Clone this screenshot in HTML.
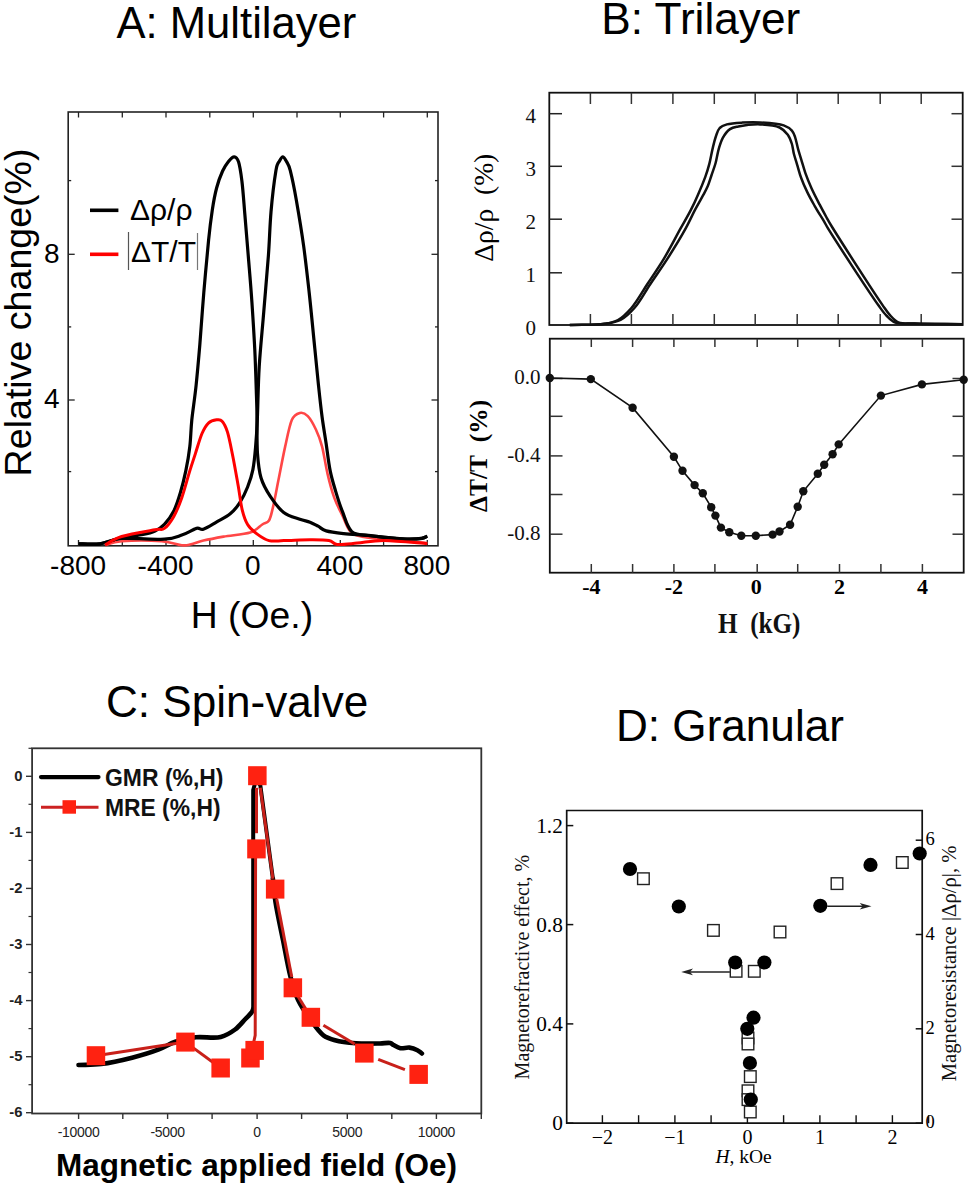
<!DOCTYPE html><html><head><meta charset="utf-8"><style>html,body{margin:0;padding:0;background:#fff;overflow:hidden}svg{display:block}</style></head><body>
<svg width="971" height="1187" viewBox="0 0 971 1187">
<rect width="971" height="1187" fill="#fff"/>
<text x="116.5" y="37.8" font-family='"Liberation Sans", sans-serif' font-size="43.6" text-anchor="start" font-weight="normal" fill="#000" >A: Multilayer</text>
<rect x="68.2" y="112" width="369.8" height="433.8" fill="none" stroke="#222" stroke-width="1.6"/>
<line x1="78.5" y1="112" x2="78.5" y2="117.5" stroke="#222" stroke-width="1.3" />
<line x1="78.5" y1="545.8" x2="78.5" y2="540" stroke="#222" stroke-width="1.3" />
<line x1="122.3" y1="112" x2="122.3" y2="117.5" stroke="#222" stroke-width="1.3" />
<line x1="122.3" y1="545.8" x2="122.3" y2="540" stroke="#222" stroke-width="1.3" />
<line x1="166" y1="112" x2="166" y2="117.5" stroke="#222" stroke-width="1.3" />
<line x1="166" y1="545.8" x2="166" y2="540" stroke="#222" stroke-width="1.3" />
<line x1="209.8" y1="112" x2="209.8" y2="117.5" stroke="#222" stroke-width="1.3" />
<line x1="209.8" y1="545.8" x2="209.8" y2="540" stroke="#222" stroke-width="1.3" />
<line x1="253.3" y1="112" x2="253.3" y2="117.5" stroke="#222" stroke-width="1.3" />
<line x1="253.3" y1="545.8" x2="253.3" y2="540" stroke="#222" stroke-width="1.3" />
<line x1="297" y1="112" x2="297" y2="117.5" stroke="#222" stroke-width="1.3" />
<line x1="297" y1="545.8" x2="297" y2="540" stroke="#222" stroke-width="1.3" />
<line x1="340.3" y1="112" x2="340.3" y2="117.5" stroke="#222" stroke-width="1.3" />
<line x1="340.3" y1="545.8" x2="340.3" y2="540" stroke="#222" stroke-width="1.3" />
<line x1="383.6" y1="112" x2="383.6" y2="117.5" stroke="#222" stroke-width="1.3" />
<line x1="383.6" y1="545.8" x2="383.6" y2="540" stroke="#222" stroke-width="1.3" />
<line x1="427.3" y1="112" x2="427.3" y2="117.5" stroke="#222" stroke-width="1.3" />
<line x1="427.3" y1="545.8" x2="427.3" y2="540" stroke="#222" stroke-width="1.3" />
<line x1="68.2" y1="254.3" x2="74.7" y2="254.3" stroke="#222" stroke-width="1.3" />
<line x1="438" y1="254.3" x2="431.5" y2="254.3" stroke="#222" stroke-width="1.3" />
<line x1="68.2" y1="400" x2="74.7" y2="400" stroke="#222" stroke-width="1.3" />
<line x1="438" y1="400" x2="431.5" y2="400" stroke="#222" stroke-width="1.3" />
<line x1="68.2" y1="180.6" x2="71.2" y2="180.6" stroke="#222" stroke-width="1.3" />
<line x1="438" y1="180.6" x2="435" y2="180.6" stroke="#222" stroke-width="1.3" />
<line x1="68.2" y1="326.9" x2="71.2" y2="326.9" stroke="#222" stroke-width="1.3" />
<line x1="438" y1="326.9" x2="435" y2="326.9" stroke="#222" stroke-width="1.3" />
<line x1="68.2" y1="471.6" x2="71.2" y2="471.6" stroke="#222" stroke-width="1.3" />
<line x1="438" y1="471.6" x2="435" y2="471.6" stroke="#222" stroke-width="1.3" />
<text x="59.6" y="262.5" font-family='"Liberation Sans", sans-serif' font-size="28" text-anchor="end" font-weight="normal" fill="#000" >8</text>
<text x="59.6" y="408.3" font-family='"Liberation Sans", sans-serif' font-size="28" text-anchor="end" font-weight="normal" fill="#000" >4</text>
<text x="78.1" y="575.2" font-family='"Liberation Sans", sans-serif' font-size="28" text-anchor="middle" font-weight="normal" fill="#000" >-800</text>
<text x="165.6" y="575.2" font-family='"Liberation Sans", sans-serif' font-size="28" text-anchor="middle" font-weight="normal" fill="#000" >-400</text>
<text x="252.9" y="575.2" font-family='"Liberation Sans", sans-serif' font-size="28" text-anchor="middle" font-weight="normal" fill="#000" >0</text>
<text x="339.9" y="575.2" font-family='"Liberation Sans", sans-serif' font-size="28" text-anchor="middle" font-weight="normal" fill="#000" >400</text>
<text x="426.9" y="575.2" font-family='"Liberation Sans", sans-serif' font-size="28" text-anchor="middle" font-weight="normal" fill="#000" >800</text>
<text x="190.8" y="628.2" font-family='"Liberation Sans", sans-serif' font-size="37.3" text-anchor="start" font-weight="normal" fill="#000" >H (Oe.)</text>
<text transform="translate(30.9,476.4) rotate(-90)" font-family='"Liberation Sans", sans-serif' font-size="37.6" fill="#000">Relative change(%)</text>
<line x1="90" y1="210.3" x2="118.4" y2="210.3" stroke="#000" stroke-width="3.6" />
<line x1="90" y1="254.3" x2="118.4" y2="254.3" stroke="#f00" stroke-width="3.6" />
<text x="130" y="220" font-family='"Liberation Sans", sans-serif' font-size="30" text-anchor="start" font-weight="normal" fill="#000" >&#916;&#961;/&#961;</text>
<text x="131" y="262" font-family='"Liberation Sans", sans-serif' font-size="30" text-anchor="start" font-weight="normal" fill="#000" >&#916;T/T</text>
<line x1="128.5" y1="232" x2="128.5" y2="270" stroke="#555" stroke-width="1.2" />
<line x1="197.5" y1="233" x2="197.5" y2="270" stroke="#777" stroke-width="1.2" />
<path d="M105.5 545.2 C108.2 544.5 112.2 541.9 121.6 541.2 C131 540.5 151.7 540.5 161.7 541.2 C171.7 541.9 177.1 544.6 181.8 545.2 C186.5 545.8 186.4 545.4 190 544.6 C193.6 543.8 197.8 541.9 203.4 540.6 C209 539.3 215.7 538 223.5 536.6 C231.3 535.2 243.7 534.5 250.2 532.5 C256.7 530.5 259.2 526.5 262.3 524.5 C265.4 522.5 267.2 523.4 269 520.5 C270.8 517.6 271.4 513.8 273 507.1 C274.6 500.4 276.4 490.3 278.4 480.3 C280.4 470.3 282.9 456.9 285.1 446.9 C287.3 436.9 289.4 425.8 291.8 420.1 C294.2 414.5 297.1 413.7 299.8 413 C302.5 412.3 305.1 413.4 307.8 416.1 C310.5 418.9 313.5 424.4 315.9 429.5 C318.3 434.6 320.2 439.2 322.1 446.6 C324 454 325.5 465.1 327.5 473.6 C329.5 482.2 331.8 490.9 334.3 497.9 C336.8 504.9 339.7 509.8 342.4 515.4 C345.1 521 346.9 528 350.5 531.6 C354.1 535.2 357.2 535.6 363.9 537 C370.6 538.4 380.3 538.7 390.9 539.7 C401.5 540.7 421.2 542.5 427.3 543.1" fill="none" stroke="#ff4646" stroke-width="2.6" stroke-linejoin="round"/>
<path d="M78.7 543.8 C82.2 543.8 92.8 544.8 100 543.8 C107.2 542.8 114.4 539.3 121.6 537.8 C128.8 536.2 137.4 535.6 143 534.5 C148.6 533.4 151.4 532.7 155 531 C158.6 529.3 161.3 527.7 164.4 524.4 C167.5 521.1 171.1 516.4 173.8 511 C176.5 505.6 178.5 499 180.5 492.3 C182.5 485.6 184.2 478.5 185.8 470.9 C187.4 463.3 188.8 455.3 189.8 446.8 C190.8 438.3 190.8 430.2 191.8 420 C192.9 409.8 194.8 397.9 196.1 385.4 C197.4 372.9 198.5 360.4 199.8 345 C201.1 329.6 202.3 310.2 203.8 292.7 C205.3 275.2 207.2 253.8 208.6 240 C210 226.2 211 218.7 212.3 210 C213.6 201.3 214.9 194.5 216.6 188 C218.3 181.5 220.6 175.4 222.6 171 C224.6 166.6 226.6 163.9 228.5 161.5 C230.4 159.1 232.5 156.7 234.2 156.8 C235.9 156.9 237.3 158 238.6 162 C239.9 166 240.8 172.2 241.9 181 C243 189.8 243.8 201.8 244.9 215 C246 228.2 247.4 245.5 248.6 260 C249.8 274.5 250.9 287 251.9 302 C252.9 317 254 333.7 254.8 350 C255.6 366.3 256.2 388.3 256.6 400 C257 411.7 256.9 411.1 257 420 C257.1 428.9 256.8 444 257.5 453.6 C258.2 463.2 258.9 470.6 261 477.7 C263.1 484.8 266.5 490.6 270.3 496.4 C274.1 502.2 278.8 508.7 283.7 512.5 C288.6 516.3 295.4 517.6 299.8 519.2 C304.2 520.8 306.9 521 310 522.2 C313.1 523.4 315.4 524.8 318.1 526.2 C320.8 527.7 321.9 529.7 326.2 530.9 C330.5 532.1 336.7 532.8 343.7 533.6 C350.7 534.4 360.6 534.8 368 535.5 C375.4 536.2 381.7 537.1 388.2 537.7 C394.7 538.3 401.5 538.9 407.1 539 C412.7 539.1 418.5 538.8 421.9 538.3 C425.3 537.8 426.4 536.6 427.3 536.3" fill="none" stroke="#000" stroke-width="3.2" stroke-linejoin="round"/>
<path d="M78.7 543.8 C82.2 543.8 92.8 544.7 100 543.8 C107.2 542.9 110.9 539.3 121.6 538.5 C132.3 537.7 154.4 539.8 164.4 539.2 C174.4 538.6 176.5 536.9 181.8 535.1 C187.2 533.3 192.9 529.4 196.5 528.4 C200.1 527.4 200 530.3 203.4 529.2 C206.8 528.1 212.3 524.4 216.8 521.8 C221.3 519.2 226.4 516.9 230.2 513.8 C234 510.7 236.6 507.6 239.5 503.1 C242.4 498.6 245.4 492.6 247.6 487 C249.8 481.4 251.6 476.3 252.9 469.6 C254.2 462.9 254.9 455.2 255.6 446.9 C256.3 438.6 256.7 433.3 257.3 420 C257.9 406.7 258.1 385 259.2 366.9 C260.3 348.8 262.3 329.9 263.8 311.3 C265.3 292.8 267.2 272.1 268.4 255.6 C269.6 239 269.8 226.2 271 212 C272.2 197.8 274.5 179.2 275.9 170.7 C277.3 162.2 278.3 163.3 279.5 161 C280.7 158.7 281.7 156.7 282.9 156.8 C284.1 156.9 285.3 159.2 286.5 161.5 C287.7 163.8 288.7 164.3 290.3 170.7 C291.9 177.1 294.1 187.4 296.3 200 C298.5 212.6 301.6 231 303.7 246.4 C305.8 261.9 307.3 275.7 309.2 292.7 C311.1 309.7 313.2 332.9 314.8 348.3 C316.4 363.8 317.3 373.9 318.5 385.4 C319.7 396.8 320.8 407.2 322.1 417 C323.4 426.8 324.9 435 326.2 444 C327.5 453 328.6 463 330.2 470.9 C331.8 478.8 333.6 484.4 335.6 491.1 C337.6 497.9 339.7 504.6 342.4 511.4 C345.1 518.1 347.1 527.5 351.8 531.6 C356.5 535.7 364.6 534.7 370.7 535.7 C376.8 536.7 382.1 537.2 388.2 537.7 C394.3 538.2 401.5 538.9 407.1 539 C412.7 539.1 418.5 538.8 421.9 538.3 C425.3 537.8 426.4 536.6 427.3 536.3" fill="none" stroke="#000" stroke-width="3.2" stroke-linejoin="round"/>
<path d="M105 545 C107.8 543.6 113.3 539 121.6 536.5 C129.9 534 147.9 531.1 155 529.8 C162.1 528.4 161.3 530.6 164.4 528.4 C167.5 526.2 170.9 521.5 173.8 516.4 C176.7 511.3 179.1 505.3 181.8 497.7 C184.5 490.1 187.5 478.2 189.8 470.9 C192.1 463.5 193.4 459.8 195.4 453.6 C197.4 447.4 199.8 438.6 202 433.5 C204.2 428.4 206.2 425.1 208.7 422.8 C211.2 420.5 214.6 420.1 216.8 419.8 C219 419.5 220.3 419.1 222.1 421.2 C223.9 423.2 225.7 426.3 227.5 432.1 C229.3 437.9 231 447.3 232.8 456.2 C234.6 465.1 236.6 476.8 238.2 485.7 C239.8 494.6 240.6 503.3 242.2 509.8 C243.8 516.3 245.2 520.5 247.6 524.5 C250 528.5 253.3 531.2 256.9 533.9 C260.5 536.6 264.5 539.5 269 540.6 C273.5 541.7 276.9 540.8 283.7 540.6 C290.5 540.5 302.5 539.7 310 539.7 C317.5 539.7 324.4 539.6 328.9 540.4 C333.4 541.2 332.3 543.9 337 544.4 C341.7 544.9 349.3 543.8 357.2 543.1 C365.1 542.4 372.5 540.3 384.2 540.4 C395.9 540.5 420.1 543.2 427.3 543.7" fill="none" stroke="#f00" stroke-width="3" stroke-linejoin="round"/>
<text x="601.3" y="34.3" font-family='"Liberation Sans", sans-serif' font-size="44.2" text-anchor="start" font-weight="normal" fill="#000" >B: Trilayer</text>
<rect x="549.3" y="92.7" width="413.4" height="232.3" fill="none" stroke="#111" stroke-width="1.8"/>
<line x1="590.4" y1="92.7" x2="590.4" y2="104" stroke="#333" stroke-width="1.5" />
<line x1="590.4" y1="325" x2="590.4" y2="314" stroke="#333" stroke-width="1.5" />
<line x1="631.4" y1="92.7" x2="631.4" y2="104" stroke="#333" stroke-width="1.5" />
<line x1="631.4" y1="325" x2="631.4" y2="314" stroke="#333" stroke-width="1.5" />
<line x1="672.9" y1="92.7" x2="672.9" y2="104" stroke="#333" stroke-width="1.5" />
<line x1="672.9" y1="325" x2="672.9" y2="314" stroke="#333" stroke-width="1.5" />
<line x1="714.3" y1="92.7" x2="714.3" y2="104" stroke="#333" stroke-width="1.5" />
<line x1="714.3" y1="325" x2="714.3" y2="314" stroke="#333" stroke-width="1.5" />
<line x1="755.2" y1="92.7" x2="755.2" y2="104" stroke="#333" stroke-width="1.5" />
<line x1="755.2" y1="325" x2="755.2" y2="314" stroke="#333" stroke-width="1.5" />
<line x1="797.2" y1="92.7" x2="797.2" y2="104" stroke="#333" stroke-width="1.5" />
<line x1="797.2" y1="325" x2="797.2" y2="314" stroke="#333" stroke-width="1.5" />
<line x1="838.2" y1="92.7" x2="838.2" y2="104" stroke="#333" stroke-width="1.5" />
<line x1="838.2" y1="325" x2="838.2" y2="314" stroke="#333" stroke-width="1.5" />
<line x1="880.2" y1="92.7" x2="880.2" y2="104" stroke="#333" stroke-width="1.5" />
<line x1="880.2" y1="325" x2="880.2" y2="314" stroke="#333" stroke-width="1.5" />
<line x1="921.2" y1="92.7" x2="921.2" y2="104" stroke="#333" stroke-width="1.5" />
<line x1="921.2" y1="325" x2="921.2" y2="314" stroke="#333" stroke-width="1.5" />
<line x1="549.3" y1="113.7" x2="562" y2="113.7" stroke="#222" stroke-width="1.5" />
<line x1="962.7" y1="113.7" x2="951.5" y2="113.7" stroke="#333" stroke-width="1.5" />
<line x1="549.3" y1="166.3" x2="562" y2="166.3" stroke="#222" stroke-width="1.5" />
<line x1="962.7" y1="166.3" x2="951.5" y2="166.3" stroke="#333" stroke-width="1.5" />
<line x1="549.3" y1="219.2" x2="562" y2="219.2" stroke="#222" stroke-width="1.5" />
<line x1="962.7" y1="219.2" x2="951.5" y2="219.2" stroke="#333" stroke-width="1.5" />
<line x1="549.3" y1="272.8" x2="562" y2="272.8" stroke="#222" stroke-width="1.5" />
<line x1="962.7" y1="272.8" x2="951.5" y2="272.8" stroke="#333" stroke-width="1.5" />
<text x="536" y="122.8" font-family='"Liberation Serif", serif' font-size="21" text-anchor="end" font-weight="normal" fill="#111" >4</text>
<text x="536" y="175.8" font-family='"Liberation Serif", serif' font-size="21" text-anchor="end" font-weight="normal" fill="#111" >3</text>
<text x="536" y="228.8" font-family='"Liberation Serif", serif' font-size="21" text-anchor="end" font-weight="normal" fill="#111" >2</text>
<text x="536" y="282.3" font-family='"Liberation Serif", serif' font-size="21" text-anchor="end" font-weight="normal" fill="#111" >1</text>
<text x="536" y="334.5" font-family='"Liberation Serif", serif' font-size="21" text-anchor="end" font-weight="normal" fill="#111" >0</text>
<text transform="translate(492.5,261.8) rotate(-90)" font-family='"Liberation Serif", serif' font-size="27.6" fill="#000">&#916;&#961;/&#961;&#160;&#160;(%)</text>
<path d="M569.8 325 C581.4 324.6 595.8 325.2 604.6 323.8 C610.2 322.9 613.8 322.3 618 320 C622.8 317.4 627 313 631.4 308 C636.9 301.6 642.1 292.1 647.4 284 C652.8 275.9 658.2 268.2 663.5 259.4 C669.3 249.8 675.6 237.4 680.6 228.4 C684.5 221.4 687.9 215.8 690.9 209.9 C693.6 204.6 695.8 199.8 698.1 194.4 C700.6 188.8 703.3 182.4 705.3 176.9 C707 172.2 708.2 168.2 709.4 163.6 C710.6 158.9 711.4 153.8 712.5 149.1 C713.6 144.5 714.7 139.5 716.1 135.7 C717.2 132.7 717.9 129.9 719.7 128 C721.5 126.2 724 125.3 726.9 124.4 C731 123.2 737.1 122.9 742.4 122.6 C748.1 122.2 753.7 122 760 122.4 C767.3 122.8 778 123.4 783.7 125.4 C787.3 126.7 790 128.5 791.9 130.6 C793.5 132.4 794.1 134.3 795 136.8 C796.2 140.2 797 145.2 798.1 149.1 C799.1 152.7 800.1 155.7 801.2 159.4 C802.5 163.6 803.7 168.2 805.3 172.8 C807.1 177.8 809.2 183.1 811.5 188.3 C813.9 193.7 817 199.5 819.7 204.7 C822.1 209.4 824.7 214.1 826.9 218.1 C828.7 221.4 829.4 222.6 832.1 227 C840.2 240.2 872.7 290.9 882.4 304.9 C886.1 310.2 887.5 312.6 890.4 315.6 C892.9 318.3 895 320.9 898.4 322.3 C902.6 324 907.7 323.3 914.5 323.6 C926.3 324.1 946.6 324 962.7 324.2" fill="none" stroke="#111" stroke-width="2.5" stroke-linejoin="round"/>
<path d="M569.8 325 C581.4 324.6 595.3 325.1 604.6 323.8 C611 322.9 615.7 322.5 620.5 320 C625.6 317.4 629.9 313.1 634.4 308 C640 301.7 645 292 650.4 284 C655.9 275.8 661.4 268.1 667 259.4 C673.2 249.7 680.7 237.5 685.7 228.4 C689.5 221.5 691.9 215.8 695 209.9 C697.9 204.5 701.3 198.8 703.6 194.4 C705.3 191.2 706.5 189 707.8 186 C709.2 182.6 710.3 178.7 711.6 175 C712.9 171.1 714.4 167.2 715.6 163 C716.8 158.6 717.4 153.5 718.7 149.1 C719.9 145.1 720.9 141.2 722.8 137.8 C724.7 134.5 727.2 131 730 129.1 C732.5 127.4 734.8 127.2 738.3 126.5 C743.8 125.4 753 124.2 760 124.4 C766.7 124.6 774.7 125.2 779.6 127.5 C783.2 129.2 785.7 131.9 787.8 134.7 C789.8 137.4 790.9 140.8 791.9 144 C792.9 147.3 793.1 150.9 794 154.3 C794.9 157.8 796 160.9 797.1 164.6 C798.4 168.8 799.5 173.5 801.2 178 C802.9 182.8 805.1 187.7 807.4 192.4 C809.6 197 812 201.2 814.6 205.8 C817.4 210.8 821.4 217 823.9 221.2 C825.6 224 825.8 224.8 828 228.4 C835.4 240.5 868.7 291.7 878.6 305.5 C882.3 310.7 883.8 313.1 886.8 316 C889.5 318.7 891.7 321.2 895.4 322.6 C900.3 324.4 906.7 323.3 914.5 323.6 C926.9 324 946.6 324 962.7 324.2" fill="none" stroke="#111" stroke-width="2.5" stroke-linejoin="round"/>
<rect x="549.8" y="338.7" width="413.9" height="234" fill="none" stroke="#111" stroke-width="1.8"/>
<line x1="591.3" y1="338.7" x2="591.3" y2="347" stroke="#333" stroke-width="1.5" />
<line x1="591.3" y1="572.7" x2="591.3" y2="564" stroke="#333" stroke-width="1.5" />
<line x1="632.6" y1="338.7" x2="632.6" y2="347" stroke="#333" stroke-width="1.5" />
<line x1="632.6" y1="572.7" x2="632.6" y2="564" stroke="#333" stroke-width="1.5" />
<line x1="673.9" y1="338.7" x2="673.9" y2="347" stroke="#333" stroke-width="1.5" />
<line x1="673.9" y1="572.7" x2="673.9" y2="564" stroke="#333" stroke-width="1.5" />
<line x1="714.9" y1="338.7" x2="714.9" y2="347" stroke="#333" stroke-width="1.5" />
<line x1="714.9" y1="572.7" x2="714.9" y2="564" stroke="#333" stroke-width="1.5" />
<line x1="757.2" y1="338.7" x2="757.2" y2="347" stroke="#333" stroke-width="1.5" />
<line x1="757.2" y1="572.7" x2="757.2" y2="564" stroke="#333" stroke-width="1.5" />
<line x1="797.7" y1="338.7" x2="797.7" y2="347" stroke="#333" stroke-width="1.5" />
<line x1="797.7" y1="572.7" x2="797.7" y2="564" stroke="#333" stroke-width="1.5" />
<line x1="839.5" y1="338.7" x2="839.5" y2="347" stroke="#333" stroke-width="1.5" />
<line x1="839.5" y1="572.7" x2="839.5" y2="564" stroke="#333" stroke-width="1.5" />
<line x1="880.9" y1="338.7" x2="880.9" y2="347" stroke="#333" stroke-width="1.5" />
<line x1="880.9" y1="572.7" x2="880.9" y2="564" stroke="#333" stroke-width="1.5" />
<line x1="922.4" y1="338.7" x2="922.4" y2="347" stroke="#333" stroke-width="1.5" />
<line x1="922.4" y1="572.7" x2="922.4" y2="564" stroke="#333" stroke-width="1.5" />
<line x1="549.8" y1="378.5" x2="562.5" y2="378.5" stroke="#333" stroke-width="1.5" />
<line x1="963.7" y1="378.5" x2="952.5" y2="378.5" stroke="#333" stroke-width="1.5" />
<line x1="549.8" y1="416.3" x2="562.5" y2="416.3" stroke="#333" stroke-width="1.5" />
<line x1="963.7" y1="416.3" x2="952.5" y2="416.3" stroke="#333" stroke-width="1.5" />
<line x1="549.8" y1="455.9" x2="562.5" y2="455.9" stroke="#333" stroke-width="1.5" />
<line x1="963.7" y1="455.9" x2="952.5" y2="455.9" stroke="#333" stroke-width="1.5" />
<line x1="549.8" y1="494.5" x2="562.5" y2="494.5" stroke="#333" stroke-width="1.5" />
<line x1="963.7" y1="494.5" x2="952.5" y2="494.5" stroke="#333" stroke-width="1.5" />
<line x1="549.8" y1="534.2" x2="562.5" y2="534.2" stroke="#333" stroke-width="1.5" />
<line x1="963.7" y1="534.2" x2="952.5" y2="534.2" stroke="#333" stroke-width="1.5" />
<text x="540.4" y="384" font-family='"Liberation Serif", serif' font-size="21" text-anchor="end" font-weight="normal" fill="#111" >0.0</text>
<text x="540.4" y="462.1" font-family='"Liberation Serif", serif' font-size="21" text-anchor="end" font-weight="normal" fill="#111" >-0.4</text>
<text x="540.4" y="540.4" font-family='"Liberation Serif", serif' font-size="21" text-anchor="end" font-weight="normal" fill="#111" >-0.8</text>
<text x="591.3" y="594.4" font-family='"Liberation Serif", serif' font-size="22" text-anchor="middle" font-weight="bold" fill="#000" >-4</text>
<text x="673.9" y="594.4" font-family='"Liberation Serif", serif' font-size="22" text-anchor="middle" font-weight="bold" fill="#000" >-2</text>
<text x="756.2" y="594.4" font-family='"Liberation Serif", serif' font-size="22" text-anchor="middle" font-weight="bold" fill="#000" >0</text>
<text x="839.5" y="594.4" font-family='"Liberation Serif", serif' font-size="22" text-anchor="middle" font-weight="bold" fill="#000" >2</text>
<text x="922.4" y="594.4" font-family='"Liberation Serif", serif' font-size="22" text-anchor="middle" font-weight="bold" fill="#000" >4</text>
<text x="718" y="633" font-family='"Liberation Serif", serif' font-size="29.5" text-anchor="start" font-weight="bold" fill="#111" textLength="82.5" lengthAdjust="spacingAndGlyphs" >H&#160;&#160;(kG)</text>
<text transform="translate(487,512) rotate(-90)" font-family='"Liberation Serif", serif' font-size="25.5" font-weight="bold" fill="#000">&#916;T/T&#160;&#160;(%)</text>
<path d="M549.8 378 L590.8 379.1 L632.6 407.7 L673.9 456.8 L682.5 470.8 L694.6 485.1 L702.8 493.3 L711.2 507.2 L715.4 515.6 L720.9 527.6 L729.3 532.3 L741.3 535.7 L755.8 535.7 L772.6 534.6 L779.5 531.5 L790.1 524.8 L797.7 506.7 L803.3 491.3 L817.8 473.7 L824.2 464.8 L832.6 454.2 L838.7 444.4 L880.9 395.6 L921.9 384.4 L963.7 379.7" fill="none" stroke="#111" stroke-width="1.6"/>
<circle cx="549.8" cy="378" r="4.2" fill="#111"/>
<circle cx="590.8" cy="379.1" r="4.2" fill="#111"/>
<circle cx="632.6" cy="407.7" r="4.2" fill="#111"/>
<circle cx="673.9" cy="456.8" r="4.2" fill="#111"/>
<circle cx="682.5" cy="470.8" r="4.2" fill="#111"/>
<circle cx="694.6" cy="485.1" r="4.2" fill="#111"/>
<circle cx="702.8" cy="493.3" r="4.2" fill="#111"/>
<circle cx="711.2" cy="507.2" r="4.2" fill="#111"/>
<circle cx="715.4" cy="515.6" r="4.2" fill="#111"/>
<circle cx="720.9" cy="527.6" r="4.2" fill="#111"/>
<circle cx="729.3" cy="532.3" r="4.2" fill="#111"/>
<circle cx="741.3" cy="535.7" r="4.2" fill="#111"/>
<circle cx="755.8" cy="535.7" r="4.2" fill="#111"/>
<circle cx="772.6" cy="534.6" r="4.2" fill="#111"/>
<circle cx="779.5" cy="531.5" r="4.2" fill="#111"/>
<circle cx="790.1" cy="524.8" r="4.2" fill="#111"/>
<circle cx="797.7" cy="506.7" r="4.2" fill="#111"/>
<circle cx="803.3" cy="491.3" r="4.2" fill="#111"/>
<circle cx="817.8" cy="473.7" r="4.2" fill="#111"/>
<circle cx="824.2" cy="464.8" r="4.2" fill="#111"/>
<circle cx="832.6" cy="454.2" r="4.2" fill="#111"/>
<circle cx="838.7" cy="444.4" r="4.2" fill="#111"/>
<circle cx="880.9" cy="395.6" r="4.2" fill="#111"/>
<circle cx="921.9" cy="384.4" r="4.2" fill="#111"/>
<circle cx="963.7" cy="379.7" r="4.2" fill="#111"/>
<text x="106" y="716.7" font-family='"Liberation Sans", sans-serif' font-size="44.1" text-anchor="start" font-weight="normal" fill="#000" >C: Spin-valve</text>
<rect x="32.1" y="748.3" width="449.2" height="365.2" fill="none" stroke="#333" stroke-width="1.8"/>
<line x1="26" y1="776.3" x2="32.1" y2="776.3" stroke="#333" stroke-width="1.4" />
<text x="22.5" y="780.9" font-family='"Liberation Sans", sans-serif' font-size="14.8" text-anchor="end" font-weight="bold" fill="#222" >0</text>
<line x1="26" y1="832.4" x2="32.1" y2="832.4" stroke="#333" stroke-width="1.4" />
<text x="22.5" y="837" font-family='"Liberation Sans", sans-serif' font-size="14.8" text-anchor="end" font-weight="bold" fill="#222" >-1</text>
<line x1="26" y1="888.4" x2="32.1" y2="888.4" stroke="#333" stroke-width="1.4" />
<text x="22.5" y="893" font-family='"Liberation Sans", sans-serif' font-size="14.8" text-anchor="end" font-weight="bold" fill="#222" >-2</text>
<line x1="26" y1="944.5" x2="32.1" y2="944.5" stroke="#333" stroke-width="1.4" />
<text x="22.5" y="949.1" font-family='"Liberation Sans", sans-serif' font-size="14.8" text-anchor="end" font-weight="bold" fill="#222" >-3</text>
<line x1="26" y1="1000.6" x2="32.1" y2="1000.6" stroke="#333" stroke-width="1.4" />
<text x="22.5" y="1005.2" font-family='"Liberation Sans", sans-serif' font-size="14.8" text-anchor="end" font-weight="bold" fill="#222" >-4</text>
<line x1="26" y1="1056.7" x2="32.1" y2="1056.7" stroke="#333" stroke-width="1.4" />
<text x="22.5" y="1061.2" font-family='"Liberation Sans", sans-serif' font-size="14.8" text-anchor="end" font-weight="bold" fill="#222" >-5</text>
<line x1="26" y1="1112.7" x2="32.1" y2="1112.7" stroke="#333" stroke-width="1.4" />
<text x="22.5" y="1117.3" font-family='"Liberation Sans", sans-serif' font-size="14.8" text-anchor="end" font-weight="bold" fill="#222" >-6</text>
<line x1="28.5" y1="748.3" x2="32.1" y2="748.3" stroke="#333" stroke-width="1.2" />
<line x1="28.5" y1="804.3" x2="32.1" y2="804.3" stroke="#333" stroke-width="1.2" />
<line x1="28.5" y1="860.4" x2="32.1" y2="860.4" stroke="#333" stroke-width="1.2" />
<line x1="28.5" y1="916.5" x2="32.1" y2="916.5" stroke="#333" stroke-width="1.2" />
<line x1="28.5" y1="972.5" x2="32.1" y2="972.5" stroke="#333" stroke-width="1.2" />
<line x1="28.5" y1="1028.6" x2="32.1" y2="1028.6" stroke="#333" stroke-width="1.2" />
<line x1="28.5" y1="1084.7" x2="32.1" y2="1084.7" stroke="#333" stroke-width="1.2" />
<line x1="78.6" y1="1113.5" x2="78.6" y2="1119" stroke="#333" stroke-width="1.4" />
<line x1="122.8" y1="1113.5" x2="122.8" y2="1119" stroke="#333" stroke-width="1.4" />
<line x1="167.6" y1="1113.5" x2="167.6" y2="1119" stroke="#333" stroke-width="1.4" />
<line x1="212.1" y1="1113.5" x2="212.1" y2="1119" stroke="#333" stroke-width="1.4" />
<line x1="257.1" y1="1113.5" x2="257.1" y2="1119" stroke="#333" stroke-width="1.4" />
<line x1="301.6" y1="1113.5" x2="301.6" y2="1119" stroke="#333" stroke-width="1.4" />
<line x1="347.3" y1="1113.5" x2="347.3" y2="1119" stroke="#333" stroke-width="1.4" />
<line x1="391.8" y1="1113.5" x2="391.8" y2="1119" stroke="#333" stroke-width="1.4" />
<line x1="436.4" y1="1113.5" x2="436.4" y2="1119" stroke="#333" stroke-width="1.4" />
<line x1="481.3" y1="1113.5" x2="481.3" y2="1119" stroke="#333" stroke-width="1.4" />
<text transform="translate(78.6,1137.3) scale(1,1.1)" font-family='"Liberation Sans", sans-serif' font-size="14" text-anchor="middle" letter-spacing="-0.3" fill="#222">-10000</text>
<text transform="translate(167.6,1137.3) scale(1,1.1)" font-family='"Liberation Sans", sans-serif' font-size="14" text-anchor="middle" letter-spacing="-0.3" fill="#222">-5000</text>
<text transform="translate(257.1,1137.3) scale(1,1.1)" font-family='"Liberation Sans", sans-serif' font-size="14" text-anchor="middle" letter-spacing="-0.3" fill="#222">0</text>
<text transform="translate(347.3,1137.3) scale(1,1.1)" font-family='"Liberation Sans", sans-serif' font-size="14" text-anchor="middle" letter-spacing="-0.3" fill="#222">5000</text>
<text transform="translate(436.4,1137.3) scale(1,1.1)" font-family='"Liberation Sans", sans-serif' font-size="14" text-anchor="middle" letter-spacing="-0.3" fill="#222">10000</text>
<text transform="translate(56,1176.3) scale(1,1.2)" font-family='"Liberation Sans", sans-serif' font-size="25.5" font-weight="bold" textLength="401" lengthAdjust="spacingAndGlyphs" fill="#000">Magnetic applied field (Oe)</text>
<line x1="41" y1="777.1" x2="98.5" y2="777.1" stroke="#000" stroke-width="4.2" stroke-linecap="round"/>
<line x1="41" y1="807.2" x2="98.5" y2="807.2" stroke="#c22" stroke-width="3" />
<rect x="62.5" y="800.2" width="13.5" height="13.5" fill="#f21"/>
<text x="105" y="786.2" font-family='"Liberation Sans", sans-serif' font-size="23.5" text-anchor="start" font-weight="bold" fill="#111" textLength="118.5" lengthAdjust="spacingAndGlyphs" >GMR (%,H)</text>
<text x="105" y="815.6" font-family='"Liberation Sans", sans-serif' font-size="23.5" text-anchor="start" font-weight="bold" fill="#111" textLength="115.5" lengthAdjust="spacingAndGlyphs" >MRE (%,H)</text>
<path d="M78.5 1065 C86.1 1064.7 93.1 1065 101.2 1064 C110.8 1062.8 122.2 1060.2 132.1 1057.7 C141.4 1055.3 151.1 1052.4 158.9 1049.4 C165.1 1047 169.4 1043.8 175.3 1041.8 C181.7 1039.7 188.7 1038.1 195.9 1037.3 C203.7 1036.4 213.7 1038.8 220.7 1037 C226.3 1035.6 230.9 1032.6 235.1 1029.5 C239.1 1026.5 242.4 1022.1 245.4 1019 C247.7 1016.6 250.3 1014.3 251.6 1012.4 C252.4 1011.2 252.7 1010.1 253.2 1009" fill="none" stroke="#000" stroke-width="4.6" stroke-linejoin="round" stroke-linecap="round"/>
<path d="M253.2 1010 L253.2 790 L256 780 L260.3 785.3 L272.9 878.7" fill="none" stroke="#000" stroke-width="4" stroke-linejoin="round"/>
<path d="M272.9 878.7 C273.7 886.3 274.1 892.9 275.4 901.4 C277.1 912.6 280.4 927.3 283 940 C285.5 952.5 287.7 966.4 290.6 977.2 C292.9 985.8 294.7 992.8 298.1 999.9 C301.5 1007 306.4 1013.9 310.8 1020 C314.8 1025.6 318.8 1031.9 323.4 1035.3 C327 1038 330.5 1039 335 1040.3 C340.9 1042 348.7 1042.8 355.9 1043.3 C363.6 1043.9 373.7 1043.6 380 1043.5 C384.1 1043.4 387.8 1042.4 390.2 1043 C391.7 1043.4 392.2 1044.3 393.5 1045 C395.4 1046 397.9 1047.7 400.4 1048.2 C403.2 1048.7 406.6 1047.2 409.5 1047.6 C412.3 1048 415.2 1049.1 417.4 1050.2 C419.2 1051.1 420.4 1052.4 421.9 1053.5" fill="none" stroke="#000" stroke-width="4.6" stroke-linejoin="round" stroke-linecap="round"/>
<path d="M95.9 1055.7 L185.4 1042.1" fill="none" stroke="#c8201a" stroke-width="3"/>
<path d="M185.4 1042.1 L220.7 1068" fill="none" stroke="#c8201a" stroke-width="3"/>
<path d="M252 1050 L255.2 1035.3 L255.6 850" fill="none" stroke="#c8201a" stroke-width="3"/>
<path d="M256.5 787.8 L256.5 833.2" fill="none" stroke="#c8201a" stroke-width="3"/>
<path d="M260.3 787.8 L272.9 878.7" fill="none" stroke="#c8201a" stroke-width="3"/>
<path d="M276.7 898.9 L291.8 977.2" fill="none" stroke="#c8201a" stroke-width="3"/>
<path d="M292.8 987.8 L310.8 1017.3" fill="none" stroke="#c8201a" stroke-width="3"/>
<path d="M323.4 1025.2 L354.7 1044" fill="none" stroke="#c8201a" stroke-width="3"/>
<path d="M378.2 1059.3 L404.9 1069.7" fill="none" stroke="#c8201a" stroke-width="3"/>
<rect x="86.7" y="1046.2" width="18.5" height="19" fill="#f21"/>
<rect x="176.2" y="1032.6" width="18.5" height="19" fill="#f21"/>
<rect x="211.4" y="1058.5" width="18.5" height="19" fill="#f21"/>
<rect x="241.2" y="1048.5" width="18.5" height="19" fill="#f21"/>
<rect x="245.4" y="1040.9" width="18.5" height="19" fill="#f21"/>
<rect x="247.2" y="839.4" width="18.5" height="19" fill="#f21"/>
<rect x="248.1" y="766.2" width="18.5" height="19" fill="#f21"/>
<rect x="265.9" y="879.6" width="18.5" height="19" fill="#f21"/>
<rect x="283.6" y="978.3" width="18.5" height="19" fill="#f21"/>
<rect x="301.6" y="1007.8" width="18.5" height="19" fill="#f21"/>
<rect x="355.1" y="1043.6" width="18.5" height="19" fill="#f21"/>
<rect x="409.4" y="1064.9" width="18.5" height="19" fill="#f21"/>
<text x="616" y="741.2" font-family='"Liberation Sans", sans-serif' font-size="44.1" text-anchor="start" font-weight="normal" fill="#000" >D: Granular</text>
<path d="M566.7 810.5 H922.2 V1123.2 H566.7 Z" fill="none" stroke="#111" stroke-width="1.7"/>
<line x1="566.7" y1="1123.2" x2="573.3" y2="1123.2" stroke="#111" stroke-width="1.5" />
<text x="562.8" y="1130.4" font-family='"Liberation Serif", serif' font-size="21.3" text-anchor="end" font-weight="normal" fill="#000" >0</text>
<line x1="566.7" y1="1023.9" x2="573.3" y2="1023.9" stroke="#111" stroke-width="1.5" />
<text x="562.8" y="1031.1" font-family='"Liberation Serif", serif' font-size="21.3" text-anchor="end" font-weight="normal" fill="#000" >0.4</text>
<line x1="566.7" y1="924.6" x2="573.3" y2="924.6" stroke="#111" stroke-width="1.5" />
<text x="562.8" y="931.8" font-family='"Liberation Serif", serif' font-size="21.3" text-anchor="end" font-weight="normal" fill="#000" >0.8</text>
<line x1="566.7" y1="825.6" x2="573.3" y2="825.6" stroke="#111" stroke-width="1.5" />
<text x="562.8" y="832.8" font-family='"Liberation Serif", serif' font-size="21.3" text-anchor="end" font-weight="normal" fill="#000" >1.2</text>
<line x1="922.2" y1="1123.2" x2="915.7" y2="1123.2" stroke="#111" stroke-width="1.5" />
<text x="925.6" y="1128.4" font-family='"Liberation Serif", serif' font-size="18.5" text-anchor="start" font-weight="normal" fill="#000" >0</text>
<line x1="922.2" y1="1028.8" x2="915.7" y2="1028.8" stroke="#111" stroke-width="1.5" />
<text x="925.6" y="1034" font-family='"Liberation Serif", serif' font-size="18.5" text-anchor="start" font-weight="normal" fill="#000" >2</text>
<line x1="922.2" y1="934.5" x2="915.7" y2="934.5" stroke="#111" stroke-width="1.5" />
<text x="925.6" y="939.7" font-family='"Liberation Serif", serif' font-size="18.5" text-anchor="start" font-weight="normal" fill="#000" >4</text>
<line x1="922.2" y1="840.2" x2="915.7" y2="840.2" stroke="#111" stroke-width="1.5" />
<text x="925.6" y="845.4" font-family='"Liberation Serif", serif' font-size="18.5" text-anchor="start" font-weight="normal" fill="#000" >6</text>
<line x1="602.4" y1="1123.2" x2="602.4" y2="1115.2" stroke="#111" stroke-width="1.4" />
<line x1="638.6" y1="1123.2" x2="638.6" y2="1115.2" stroke="#111" stroke-width="1.4" />
<line x1="674.9" y1="1123.2" x2="674.9" y2="1115.2" stroke="#111" stroke-width="1.4" />
<line x1="711.1" y1="1123.2" x2="711.1" y2="1115.2" stroke="#111" stroke-width="1.4" />
<line x1="747.4" y1="1123.2" x2="747.4" y2="1115.2" stroke="#111" stroke-width="1.4" />
<line x1="783.6" y1="1123.2" x2="783.6" y2="1115.2" stroke="#111" stroke-width="1.4" />
<line x1="819.9" y1="1123.2" x2="819.9" y2="1115.2" stroke="#111" stroke-width="1.4" />
<line x1="856.1" y1="1123.2" x2="856.1" y2="1115.2" stroke="#111" stroke-width="1.4" />
<line x1="892.4" y1="1123.2" x2="892.4" y2="1115.2" stroke="#111" stroke-width="1.4" />
<line x1="928.6" y1="1123.2" x2="928.6" y2="1115.2" stroke="#111" stroke-width="1.4" />
<text x="602.4" y="1143.5" font-family='"Liberation Serif", serif' font-size="20" text-anchor="middle" font-weight="normal" fill="#000" >&#8722;2</text>
<text x="674.9" y="1143.5" font-family='"Liberation Serif", serif' font-size="20" text-anchor="middle" font-weight="normal" fill="#000" >&#8722;1</text>
<text x="747.4" y="1143.5" font-family='"Liberation Serif", serif' font-size="20" text-anchor="middle" font-weight="normal" fill="#000" >0</text>
<text x="819.9" y="1143.5" font-family='"Liberation Serif", serif' font-size="20" text-anchor="middle" font-weight="normal" fill="#000" >1</text>
<text x="892.4" y="1143.5" font-family='"Liberation Serif", serif' font-size="20" text-anchor="middle" font-weight="normal" fill="#000" >2</text>
<text x="715.4" y="1162.8" font-family='"Liberation Serif", serif' font-size="19.5" text-anchor="start" font-weight="normal" fill="#000" ><tspan font-style="italic">H</tspan>, kOe</text>
<text transform="translate(528.5,1079.4) rotate(-90)" font-family='"Liberation Serif", serif' font-size="20" fill="#111">Magnetorefractive effect, %</text>
<text transform="translate(955.5,1081.3) rotate(-90)" font-family='"Liberation Serif", serif' font-size="20.7" fill="#111">Magnetoresistance |&#916;&#961;/&#961;|, %</text>
<rect x="637.6" y="872.9" width="11.6" height="11.6" fill="#fff" stroke="#222" stroke-width="1.4"/>
<rect x="707.6" y="924.6" width="11.6" height="11.6" fill="#fff" stroke="#222" stroke-width="1.4"/>
<rect x="730.3" y="965.5" width="11.6" height="11.6" fill="#fff" stroke="#222" stroke-width="1.4"/>
<rect x="748.5" y="965.5" width="11.6" height="11.6" fill="#fff" stroke="#222" stroke-width="1.4"/>
<rect x="742.2" y="1032.2" width="11.6" height="11.6" fill="#fff" stroke="#222" stroke-width="1.4"/>
<rect x="742.2" y="1038.2" width="11.6" height="11.6" fill="#fff" stroke="#222" stroke-width="1.4"/>
<rect x="744.5" y="1070.8" width="11.6" height="11.6" fill="#fff" stroke="#222" stroke-width="1.4"/>
<rect x="742.2" y="1085" width="11.6" height="11.6" fill="#fff" stroke="#222" stroke-width="1.4"/>
<rect x="742.2" y="1093.8" width="11.6" height="11.6" fill="#fff" stroke="#222" stroke-width="1.4"/>
<rect x="744.5" y="1106.2" width="11.6" height="11.6" fill="#fff" stroke="#222" stroke-width="1.4"/>
<rect x="774.2" y="926.2" width="11.6" height="11.6" fill="#fff" stroke="#222" stroke-width="1.4"/>
<rect x="831.2" y="877.8" width="11.6" height="11.6" fill="#fff" stroke="#222" stroke-width="1.4"/>
<rect x="896.5" y="856.7" width="11.6" height="11.6" fill="#fff" stroke="#222" stroke-width="1.4"/>
<circle cx="630" cy="869" r="7.1" fill="#000"/>
<circle cx="678.8" cy="906.5" r="7.1" fill="#000"/>
<circle cx="735.2" cy="962.5" r="7.1" fill="#000"/>
<circle cx="764.4" cy="962.5" r="7.1" fill="#000"/>
<circle cx="753.5" cy="1017.7" r="7.1" fill="#000"/>
<circle cx="747.3" cy="1028.8" r="7.1" fill="#000"/>
<circle cx="749.9" cy="1063" r="7.1" fill="#000"/>
<circle cx="750.8" cy="1099.6" r="7.1" fill="#000"/>
<circle cx="820.3" cy="905.8" r="7.1" fill="#000"/>
<circle cx="870.5" cy="864.9" r="7.1" fill="#000"/>
<circle cx="919.7" cy="853.5" r="7.1" fill="#000"/>
<line x1="729.9" y1="971.9" x2="688" y2="971.9" stroke="#222" stroke-width="1.5" />
<path d="M681.2 971.9 L693 968.6 L690 971.9 L693 975.2 Z" fill="#222"/>
<line x1="827.2" y1="906.2" x2="865" y2="906.2" stroke="#222" stroke-width="1.5" />
<path d="M871.5 906.2 L859.7 902.9 L862.7 906.2 L859.7 909.5 Z" fill="#222"/>
</svg></body></html>
